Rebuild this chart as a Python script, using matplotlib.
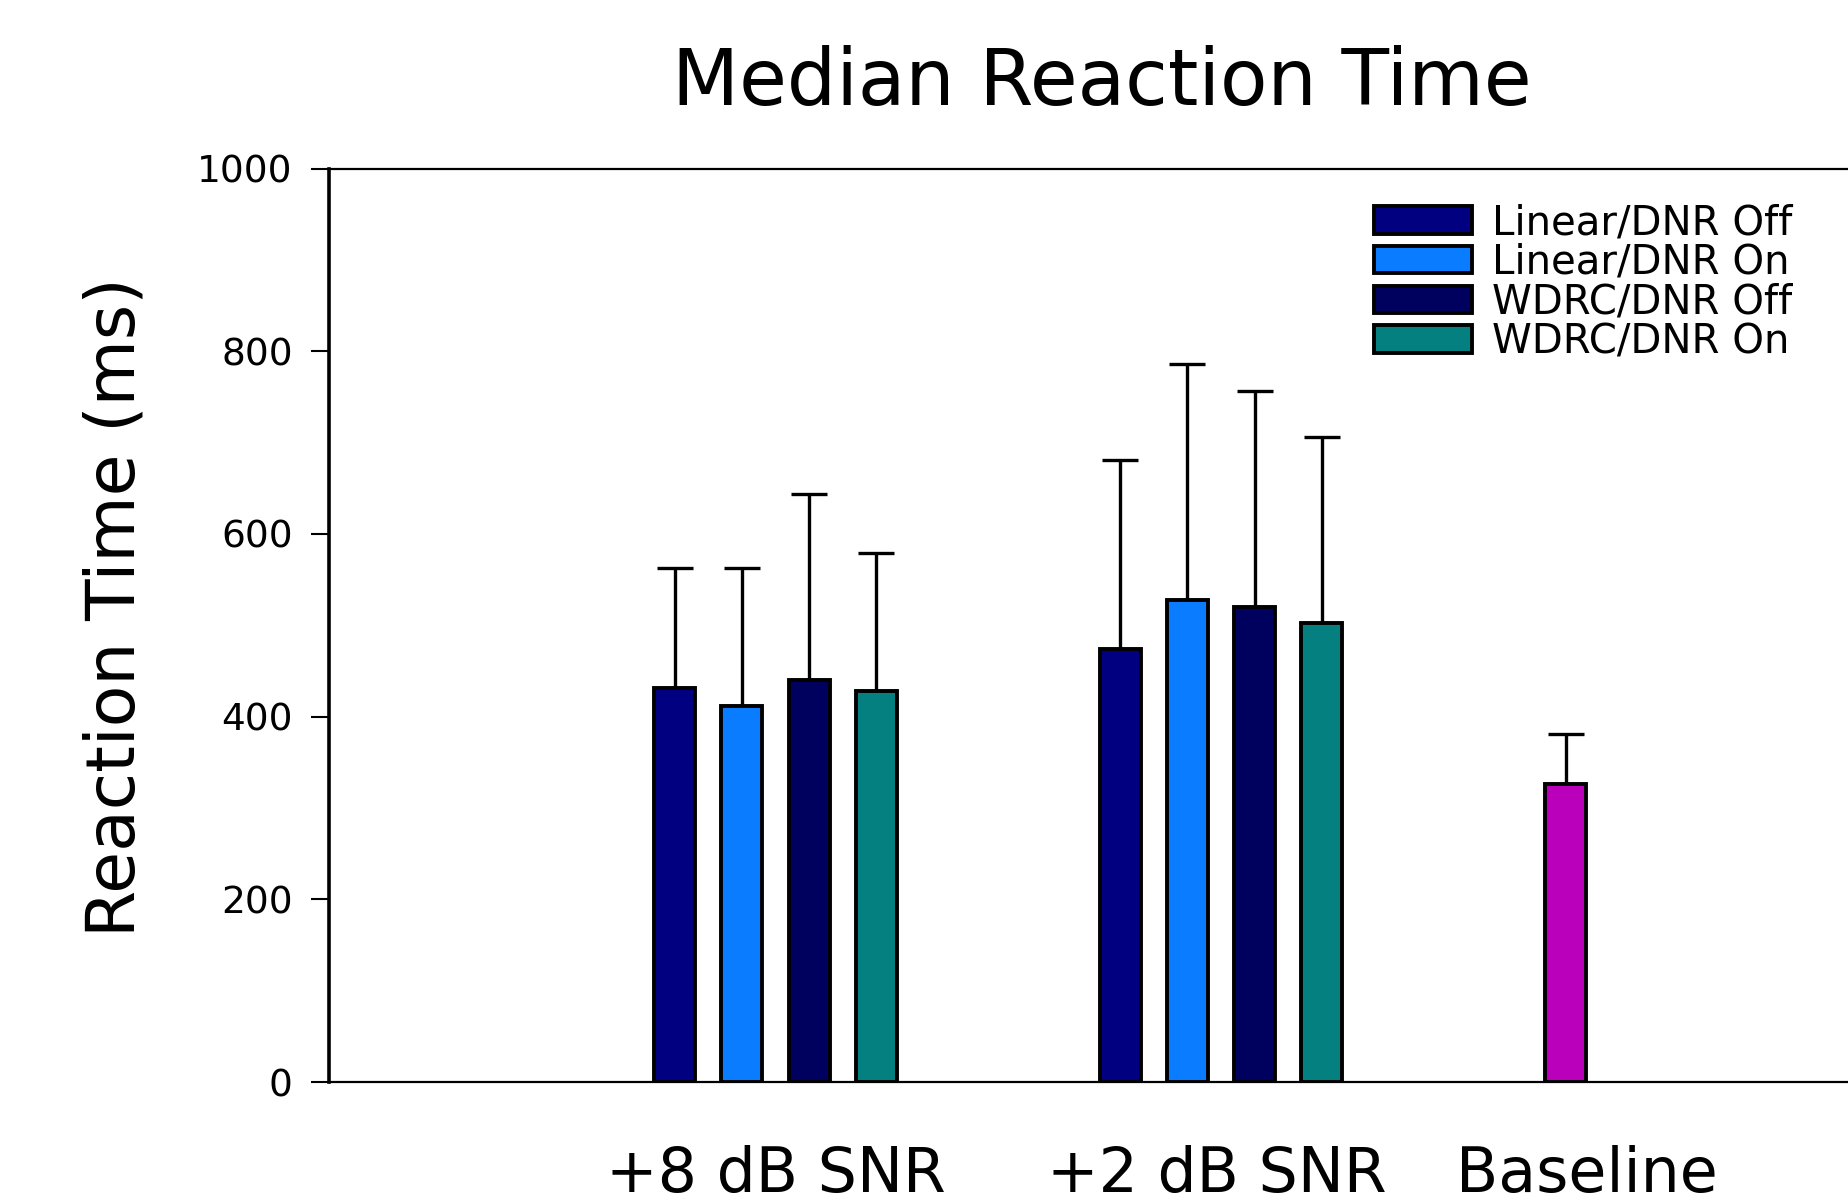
import numpy as np
import matplotlib.pyplot as plt

categories = ['+8 dB SNR', '+2 dB SNR', 'Baseline']
conditions = ['Linear/DNR Off', 'Linear/DNR On', 'WDRC/DNR Off', 'WDRC/DNR On']
colors = ['#000080', '#0a7cff', '#00005e', '#058080']

# medians (ms) for +8 and +2 dB SNR, then upper error bar length
linear_off = [431, 474]
linear_on = [412, 528]
wdrc_off = [440, 520]
wdrc_on = [428, 503]
linear_off_err = [132, 207]
linear_on_err = [151, 258]
wdrc_off_err = [204, 237]
wdrc_on_err = [151, 203]

baseline = [326]
baseline_err = [55]

series = [linear_off, linear_on, wdrc_off, wdrc_on]
series_err = [linear_off_err, linear_on_err, wdrc_off_err, wdrc_on_err]

plt.rcParams['font.family'] = 'DejaVu Sans'

fig = plt.figure(figsize=(18.48, 12.04), dpi=100)
ax = fig.add_axes([0.178, 0.1013, 0.822, 0.7587])

width = 0.092
step = 0.151
centers = np.arange(2)
for k, (vals, errs) in enumerate(zip(series, series_err)):
    x = centers + (k - 1.5) * step
    ax.bar(x, vals, width, color=colors[k], edgecolor='black', linewidth=2.8,
           label=conditions[k], zorder=3)
    ax.errorbar(x, vals, yerr=[np.zeros(len(errs)), errs], fmt='none',
                ecolor='black', elinewidth=2.4, capsize=13, capthick=2.4, zorder=2)

xb = np.array([2 - 1.5 * step])
ax.bar(xb, baseline, width, color='#bb00bb', edgecolor='black', linewidth=2.8, zorder=3)
ax.errorbar(xb, baseline, yerr=[[0], baseline_err], fmt='none', ecolor='black',
            elinewidth=2.4, capsize=13, capthick=2.4, zorder=2)

ax.set_xlim(-1.002, 2.407)
ax.set_ylim(0, 1000)
ax.set_yticks([0, 200, 400, 600, 800, 1000])
ax.tick_params(axis='y', direction='out', length=13, width=1.5, pad=13, labelsize=27)
ax.set_xticks([0, 0.99, 1.82])
ax.set_xticklabels(categories)
ax.tick_params(axis='x', length=0, pad=45, labelsize=44.5)

ax.spines['right'].set_visible(False)
ax.spines['left'].set_linewidth(2.6)
ax.spines['top'].set_linewidth(1.6)
ax.spines['bottom'].set_linewidth(1.6)

ax.set_ylabel('Reaction Time (ms)', fontsize=49)
ax.yaxis.set_label_coords(-0.119, 0.52)

fig.text(0.596, 0.931, 'Median Reaction Time', fontsize=56, ha='center', va='center')

ax.legend(loc='upper left', bbox_to_anchor=(0.688, 0.962), frameon=False,
          fontsize=29, handlelength=2.42, handleheight=0.67, handletextpad=0.5,
          labelspacing=-0.01, borderpad=0, borderaxespad=0)

fig.savefig('out.png', dpi=100)
